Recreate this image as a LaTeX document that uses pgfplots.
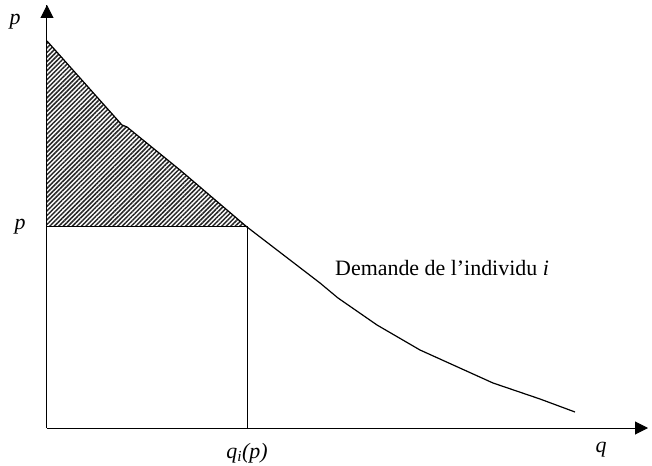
\documentclass[border=0pt]{standalone}
\usepackage{fontspec}
\setmainfont{Liberation Serif}
\usepackage{pgfplots}
\pgfplotsset{compat=1.18}
\usetikzlibrary{arrows.meta,patterns.meta}
\tikzset{big/.style={font=\fontsize{22}{26}\selectfont}}
\begin{document}
\begin{tikzpicture}
\begin{axis}[
  scale only axis, width=601bp, height=423bp,
  xmin=0, xmax=601, ymin=0, ymax=423,
  axis lines=left,
  axis line style={line width=1bp, -{Triangle[length=13bp,width=13bp]}},
  xtick=\empty, ytick=\empty,
  clip=false,
]
\addplot[draw=none, pattern={Lines[angle=45,distance=3.2bp,line width=1.5bp]}, pattern color=black!85]
  coordinates {(0,387) (75,303) (80,301) (133,258) (200,201) (0,201)} -- cycle;
\addplot[black, line width=1bp] coordinates {(0,201) (200,201) (200,0)};
\addplot[black, line width=1.2bp] coordinates {
  (0,387) (75,303) (80,301) (133,258) (200,201) (273,145) (291,130)
  (330,103) (373,78) (446,45) (493,29) (528,16)};
\addplot[black, line width=1bp] coordinates {(0,0) (0,423)};
\node[big] at (axis cs:-32,406) {\textit{p}};
\node[big] at (axis cs:-27,201) {\textit{p}};
\node[big, inner sep=1pt] at (axis cs:200,-25) {\textit{q}\textsubscript{\textit{i}}\textit{(p)}};
\node[big] at (axis cs:554,-22) {\textit{q}};
\node[big, anchor=west, inner sep=0pt] at (axis cs:288,160) {Demande de l’individu \textit{i}};
\end{axis}
\pgfresetboundingbox
\useasboundingbox (-47bp,-38bp) rectangle (605bp,428bp);
\end{tikzpicture}
\end{document}
